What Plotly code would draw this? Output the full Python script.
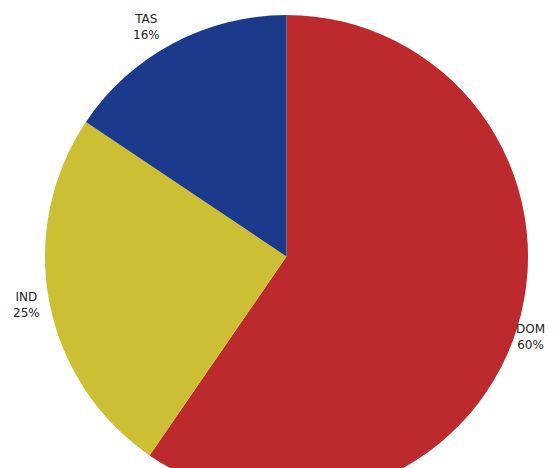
import plotly.graph_objects as go

labels = ["DOM", "IND", "TAS"]
values = [59.6, 24.8, 15.6]
colors = ["#bd2a2e", "#cdbf33", "#1b3a8c"]
display_pct = ["60%", "25%", "16%"]

W, H = 555, 540
L, R, T, B = 45, 27, 15, 42
fig = go.Figure(go.Pie(
    labels=labels,
    values=values,
    marker=dict(colors=colors, line=dict(width=0)),
    sort=False,
    direction="clockwise",
    rotation=0,
    textinfo="none",
    hoverinfo="label+percent",
    showlegend=False,
))

ann_pos = {"DOM": (530, 337), "IND": (26, 305), "TAS": (146, 27)}
for lab, pct in zip(labels, display_pct):
    x, y = ann_pos[lab]
    fig.add_annotation(
        x=(x - L) / (W - L - R), y=1 - (y - T) / (H - T - B),
        xref="paper", yref="paper",
        text=f"{lab}<br>{pct}", showarrow=False,
        font=dict(family="DejaVu Sans", size=12, color="#222222"),
        align="center", xanchor="center", yanchor="middle",
    )

fig.update_layout(
    width=W, height=H,
    margin=dict(l=L, r=R, t=T, b=B),
    paper_bgcolor="white", plot_bgcolor="white",
)

fig.write_html(
    "out.html",
    config={"displayModeBar": False},
    post_script="document.body.style.margin='0';document.body.style.overflow='hidden';document.documentElement.style.overflow='hidden';",
)
